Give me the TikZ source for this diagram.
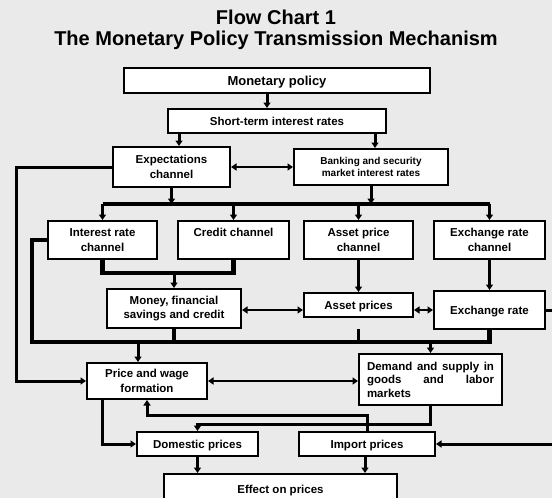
\documentclass[tikz,border=0pt]{standalone}
\usepackage{fontspec}
\setmainfont{Liberation Sans}
\usetikzlibrary{arrows.meta, calc}
\definecolor{bggray}{RGB}{234,234,234}

\begin{document}
\begin{tikzpicture}[
    x=1pt, y=-1pt,
    >={Triangle[length=5.5pt,width=7pt]}, line width=3pt,
    box/.style={draw, line width=2pt, fill=white, inner sep=0pt, align=center, font=\fontsize{11.5}{14.5}\selectfont\bfseries},
    oneline/.style={box, text depth=0pt},
    bus/.style={line width=3.6pt},
    heavy/.style={line width=4.5pt},
    slim/.style={line width=2.4pt},
    heading/.style={align=center, font=\fontsize{20}{21.5}\selectfont\bfseries}
]
\fill[bggray] (0,0) rectangle (552,498);
\useasboundingbox (0,0) rectangle (552,498);
\node[heading] (Title) at (276,30) {Flow Chart 1\\The Monetary Policy Transmission Mechanism};
\node[oneline, minimum width=306, minimum height=25, font=\fontsize{13}{15}\selectfont\bfseries] (MP) at (277,80.5) {Monetary policy};
\node[oneline, minimum width=218, minimum height=24] (STR) at (277,121) {Short-term interest rates};
\node[box, minimum width=117, minimum height=40] (EXP) at (171.5,167) {Expectations\\channel};
\node[box, minimum width=154, minimum height=36, font=\fontsize{10}{11.5}\selectfont\bfseries] (BANK) at (371,167) {Banking and security\\market interest rates};
\node[box, minimum width=109, minimum height=38] (INT) at (102.5,240) {Interest rate\\channel};
\node[box, minimum width=111, minimum height=38] (CRED) at (233.5,240) {Credit channel\\~};
\node[box, minimum width=109, minimum height=38] (APC) at (358.5,240) {Asset price\\channel};
\node[box, minimum width=111, minimum height=38] (ERC) at (489.5,240) {Exchange rate\\channel};
\node[box, minimum width=134, minimum height=39] (MON) at (174,308.5) {Money, financial\\savings and credit};
\node[oneline, minimum width=109, minimum height=24] (AP) at (358.5,305) {Asset prices};
\node[oneline, minimum width=111, minimum height=38] (EXR) at (489.5,310) {Exchange rate};
\node[box, minimum width=120, minimum height=36] (PWF) at (147,381) {Price and wage\\formation};
\node[box, minimum width=143, minimum height=51, text width=127, align=justify, font=\fontsize{11.5}{13.5}\selectfont\bfseries] (DSG) at (430.5,379.5) {Demand and supply in\linebreak goods and labor\linebreak markets};
\node[oneline, minimum width=121, minimum height=24] (DOM) at (197.5,444) {Domestic prices};
\node[oneline, minimum width=136, minimum height=24] (IMP) at (367,444) {Import prices};
\node[oneline, minimum width=233, minimum height=30] (EFF) at (280.5,489) {Effect on prices};
\coordinate (busT) at (0,204);
\coordinate (icJoin) at (0,273);
\coordinate (busB) at (32,342);
\draw[->] ([xshift=-10pt]MP.south) -- ([xshift=-10pt]MP.south |- STR.north);
\draw[->] ([xshift=7.5pt]EXP.north |- STR.south) -- ([xshift=7.5pt]EXP.north);
\draw[->] ([xshift=4pt]BANK.north |- STR.south) -- ([xshift=4pt]BANK.north);
\draw[<->, slim] (EXP.east) -- (BANK.west);
\draw[->] (EXP.west) -- ++(-96,0) |- (PWF.west);
\draw[bus] (INT.north |- busT) -- (ERC.north |- busT);
\draw[->] (EXP.south) -- (EXP.south |- busT);
\draw[->] (BANK.south) -- (BANK.south |- busT);
\foreach \n in {INT, CRED, APC, ERC}
    \draw[->] (\n.north |- busT) -- (\n.north);
\draw[heavy] (INT.south) -- (INT.south |- icJoin) -- (CRED.south |- icJoin) -- (CRED.south);
\draw[->] (MON.north |- icJoin) -- (MON.north);
\draw[->] (APC.south) -- (AP.north);
\draw[->] (ERC.south) -- (EXR.north);
\draw[<->, slim] (MON.east |- EXR.west) -- (AP.west |- EXR.west);
\draw[<->, slim] (AP.east |- EXR.west) -- (EXR.west);
\draw[->] (EXR.east) -- ++(11,0) |- (IMP.east);
\draw[heavy] (INT.west) -| (busB) -- (EXR.south |- busB) -- (EXR.south);
\draw[bus] (MON.south) -- (MON.south |- busB);
\draw[slim, shorten <=11pt] (AP.south) -- (AP.south |- busB);
\draw[->] ([xshift=-9pt]PWF.north |- busB) -- ([xshift=-9pt]PWF.north);
\draw[->] (DSG.north |- busB) -- (DSG.north);
\draw[<->, slim] (PWF.east) -- (DSG.west |- PWF.east);
\draw[->] ([xshift=-45pt]PWF.south) |- (DOM.west);
\draw[->] (IMP.north) -- ++(0,-16) -| (PWF.south);
\draw[->] (DSG.south) -- ++(0,18) -| (DOM.north);
\draw[->] (DOM.south) -- (DOM.south |- EFF.north);
\draw[->] ([xshift=-2pt]IMP.south) -- ([xshift=-2pt]IMP.south |- EFF.north);
\end{tikzpicture}
\end{document}
